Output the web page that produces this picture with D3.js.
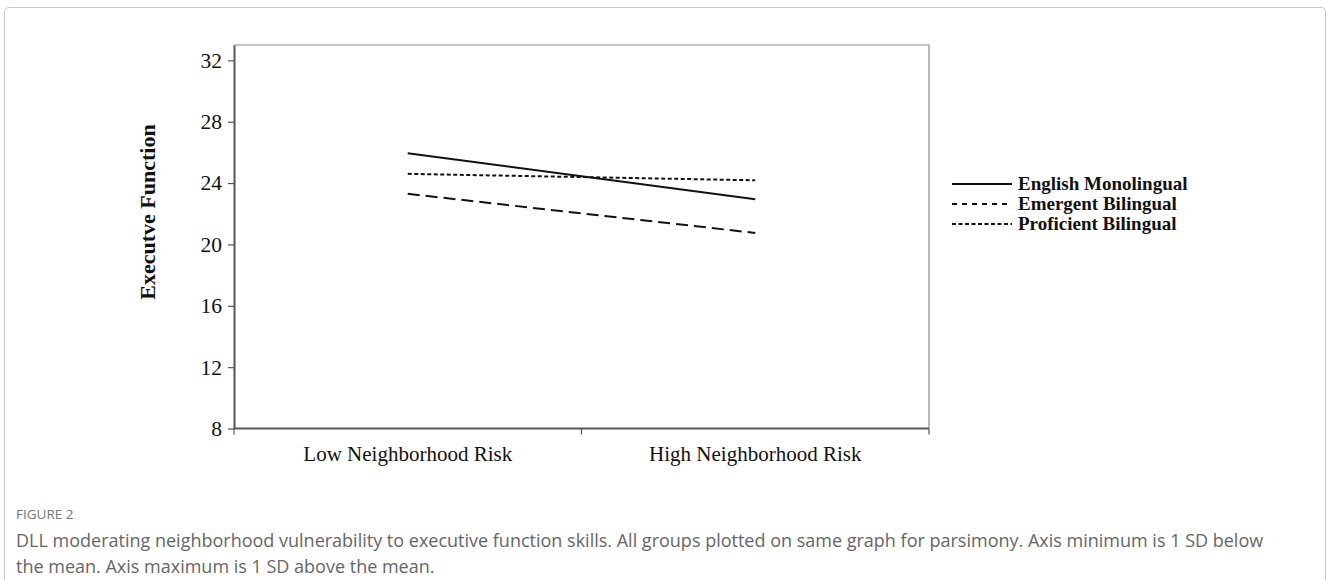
<!DOCTYPE html>
<html>
<head>
<meta charset="utf-8">
<script src="https://cdn.jsdelivr.net/npm/d3@7/dist/d3.min.js"></script>
<style>
  html, body { margin: 0; padding: 0; background: #fff; }
  svg { display: block; }
</style>
</head>
<body>
<svg id="chart" width="1328" height="580"></svg>
<script>
// ---- Data ----
const categories = ["Low Neighborhood Risk", "High Neighborhood Risk"];
const seriesNames = ["English Monolingual", "Emergent Bilingual", "Proficient Bilingual"];
const englishMonolingual = [25.95, 22.95];
const emergentBilingual = [23.3, 20.75];
const proficientBilingual = [24.6, 24.18];
const yTicks = [8, 12, 16, 20, 24, 28, 32];
const yLabel = "Executve Function";
const figureLabel = "FIGURE 2";
const captionLines = [
  "DLL moderating neighborhood vulnerability to executive function skills. All groups plotted on same graph for parsimony. Axis minimum is 1 SD below",
  "the mean. Axis maximum is 1 SD above the mean."
];

const series = [
  { name: seriesNames[0], values: englishMonolingual, dash: null, legendDash: null },
  { name: seriesNames[1], values: emergentBilingual, dash: "12,6", legendDash: "5,5" },
  { name: seriesNames[2], values: proficientBilingual, dash: "4,2.5", legendDash: "4,2.5" }
];

const svg = d3.select("#chart");
const serif = "'Liberation Serif', 'Times New Roman', Times, serif";

// outer frame
svg.append("rect")
  .attr("x", 4.5).attr("y", 7.5)
  .attr("width", 1321).attr("height", 620)
  .attr("rx", 4)
  .attr("fill", "none")
  .attr("stroke", "#c8c8c8")
  .attr("stroke-width", 1);

const plot = { left: 234, right: 929, top: 45, bottom: 428.5 };

const x = d3.scaleBand().domain(categories).range([plot.left, plot.right]).padding(0);
const y = d3.scaleLinear().domain([8, 33]).range([plot.bottom, plot.top]);

// plot area box (top and right)
svg.append("path")
  .attr("d", `M${plot.left},${plot.top}H${plot.right}V${plot.bottom}`)
  .attr("fill", "none")
  .attr("stroke", "#8a8a8a")
  .attr("stroke-width", 1.2);

// Y axis
const yAxis = d3.axisLeft(y).tickValues(yTicks).tickSize(6).tickSizeOuter(0).tickFormat(d3.format("d"));
const gy = svg.append("g").attr("transform", `translate(${plot.left},0)`).call(yAxis);
gy.select(".domain").attr("stroke", "#555").attr("stroke-width", 2);
gy.selectAll(".tick line").attr("stroke", "#555").attr("stroke-width", 1.2);
gy.selectAll(".tick text")
  .attr("font-family", serif)
  .attr("font-size", 21.5)
  .attr("fill", "#111")
  .attr("x", -12);

// X axis line and ticks at category boundaries
const xEdges = [x.range()[0]].concat(categories.map(c => x(c) + x.bandwidth()));
svg.append("line")
  .attr("x1", plot.left).attr("x2", plot.right)
  .attr("y1", plot.bottom).attr("y2", plot.bottom)
  .attr("stroke", "#555").attr("stroke-width", 2);
svg.selectAll(".xtick").data(xEdges).enter().append("line")
  .attr("class", "xtick")
  .attr("x1", d => d).attr("x2", d => d)
  .attr("y1", plot.bottom).attr("y2", plot.bottom + 6)
  .attr("stroke", "#555").attr("stroke-width", 1.2);
svg.selectAll(".xlabel").data(categories).enter().append("text")
  .attr("class", "xlabel")
  .attr("x", d => x(d) + x.bandwidth() / 2)
  .attr("y", 461)
  .attr("text-anchor", "middle")
  .attr("font-family", serif)
  .attr("font-size", 21)
  .attr("fill", "#111")
  .text(d => d);

// Y label
svg.append("text")
  .attr("transform", "translate(155,212) rotate(-90)")
  .attr("text-anchor", "middle")
  .attr("font-family", serif)
  .attr("font-weight", "bold")
  .attr("font-size", 22)
  .attr("fill", "#111")
  .text(yLabel);

// Lines
const line = d3.line()
  .x((d, i) => x(categories[i]) + x.bandwidth() / 2)
  .y(d => y(d));
svg.selectAll(".series").data(series).enter().append("path")
  .attr("class", "series")
  .attr("d", d => line(d.values))
  .attr("fill", "none")
  .attr("stroke", "#111")
  .attr("stroke-width", 2)
  .attr("stroke-dasharray", d => d.dash);

// Legend
const legend = svg.append("g").attr("transform", "translate(952,184)");
const rows = legend.selectAll(".lg").data(series).enter().append("g")
  .attr("transform", (d, i) => `translate(0,${i * 20})`);
rows.append("line")
  .attr("x1", 0).attr("x2", 60).attr("y1", 0).attr("y2", 0)
  .attr("stroke", "#111").attr("stroke-width", 2)
  .attr("stroke-dasharray", d => d.legendDash);
rows.append("text")
  .attr("x", 66).attr("y", 6)
  .attr("font-family", serif)
  .attr("font-weight", "bold")
  .attr("font-size", 19)
  .attr("fill", "#111")
  .text(d => d.name);

// Caption
const sans = "'Open Sans', Lato, 'Noto Sans', sans-serif";
svg.append("text")
  .attr("x", 16).attr("y", 519)
  .attr("font-family", sans)
  .attr("font-size", 13.5)
  .attr("fill", "#777")
  .text(figureLabel);
svg.selectAll(".cap").data(captionLines).enter().append("text")
  .attr("class", "cap")
  .attr("x", 16)
  .attr("y", (d, i) => 547 + i * 26)
  .attr("font-family", sans)
  .attr("font-size", 18)
  .attr("fill", "#666")
  .text(d => d);
</script>
</body>
</html>
